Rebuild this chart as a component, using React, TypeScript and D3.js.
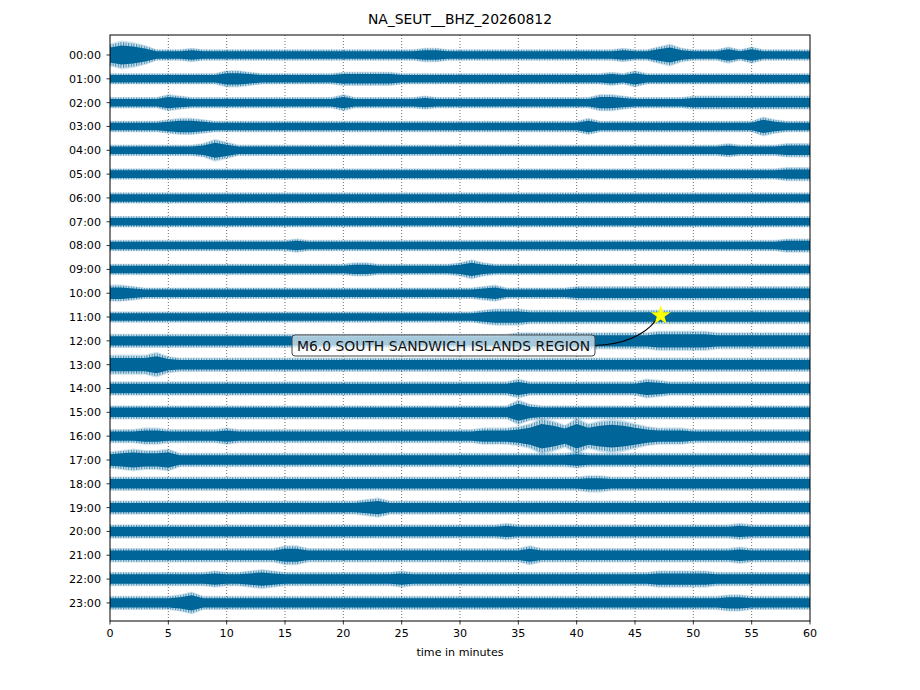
import * as d3 from 'd3'

// one string per hour row, one hex digit per minute (0..60), trace envelope half-width
const HOURS = [
  '00:00', '01:00', '02:00', '03:00', '04:00', '05:00', '06:00', '07:00',
  '08:00', '09:00', '10:00', '11:00', '12:00', '13:00', '14:00', '15:00',
  '16:00', '17:00', '18:00', '19:00', '20:00', '21:00', '22:00', '23:00',
]
const ENVELOPES = [
  '8a97444544 4444444444 4444444554 4444444444 4444544685 4446464444 4',
  '4444444444 6654444444 5555544444 4444444444 4445464444 4444444444 4',
  '4444465444 4444444444 6444444544 4444444444 4466544444 5555555555 5',
  '4444456654 4444444444 4444444444 4444444444 4644444444 4444447544 4',
  '4444444458 6444444444 4444444444 4444444444 4444444444 4445444455 5',
  '4444444444 4444444444 4444444444 4444444444 4444444444 4444444455 5',
  '4444444444 4444444444 4444444444 4444444444 4444444444 4444444444 4',
  '4444444444 4444444444 4444444444 4444444444 4444444444 4444444444 4',
  '4444444444 4444445444 4444444444 4444444444 4444444444 4444444455 5',
  '4444444444 4444444444 4554444444 5754444444 4444444444 4444444444 4',
  '6654444444 4444444444 4444444444 4456444444 5555555555 5555555555 5',
  '4444444444 4444444444 4444444444 4456665555 5555555555 5555555555 5',
  '5555555555 5555555555 5555555555 5555566666 6666666777 7766666666 6',
  '7777965555 5555555555 5555555555 5555555555 5555555555 5555555555 5',
  '5555555555 5555555555 5555555555 5555575555 5555557655 5555555555 5',
  '5555555555 5555555555 5555555555 5555596555 5555555555 5555555555 5',
  '5556655555 6555555555 5555555555 5566679db8 d9bcb97666 5555555555 5',
  '6787785555 5555555555 5555555555 5555555555 6555555555 5555555555 5',
  '5555555555 5555555555 5555555555 5555555555 5665555555 5555555555 5',
  '5555555555 5555555555 5567555555 5555555555 5555555555 5555555555 5',
  '5555555555 5555555555 5555555555 5555655555 5555555555 5555655555 5',
  '5555555555 5555577555 5555555555 5555557555 5555555555 5555655555 5',
  '5555555556 5567655555 5555565555 5555555555 5555555666 6655555555 5',
  '5555556855 5555555555 5555555555 5555555555 5555555555 5556655555 5',
]
const MINUTE_TICKS = [0, 5, 10, 15, 20, 25, 30, 35, 40, 45, 50, 55, 60]
const TITLE = 'NA_SEUT__BHZ_20260812'
const EVENT_LABEL = 'M6.0 SOUTH SANDWICH ISLANDS REGION'
const EVENT_ROW = 11
const EVENT_MINUTE = 47.2

const W = 920
const H = 690
const MARGIN = { top: 35, right: 110, bottom: 69, left: 110 }
const TRACE = '#006699'
const FONT = "'DejaVu Sans', sans-serif"

export default function App() {
  const w = W - MARGIN.left - MARGIN.right
  const h = H - MARGIN.top - MARGIN.bottom

  const x = d3.scaleLinear().domain([0, 60]).range([0, w])
  const y = d3.scaleLinear().domain([-0.84, 23.76]).range([0, h])
  const rowStep = y(1) - y(0)
  const amp = d3.scaleLinear().domain([0, 24]).range([0, rowStep])

  const rows = ENVELOPES.map((s) => s.replace(/ /g, '').split('').map((c) => parseInt(c, 16)))

  const band = (row: number, k: number) =>
    d3
      .area<number>()
      .x((_, i) => x(i))
      .y0((a) => y(row) + amp(a) * k)
      .y1((a) => y(row) - amp(a) * k)
      .curve(d3.curveLinear)

  const starX = x(EVENT_MINUTE)
  const starY = y(EVENT_ROW) - 1.5
  const star = d3.symbol().type(d3.symbolStar).size(125)()

  const boxX = 182
  const boxY = 300
  const boxW = 303
  const boxH = 21
  const arrowStart: [number, number] = [boxX + boxW, boxY + boxH / 2]
  const arrowEnd: [number, number] = [starX - 5, starY + 5]
  const arrowPath = `M${arrowStart[0]},${arrowStart[1]} Q${arrowEnd[0] - 18},${arrowStart[1] - 2} ${arrowEnd[0]},${arrowEnd[1]}`

  return (
    <svg width={W} height={H} style={{ position: 'absolute', left: 0, top: 0, background: '#fff' }} fontFamily={FONT}>
      <defs>
        <clipPath id="plot-clip">
          <rect width={w} height={h} />
        </clipPath>
        <pattern id="hair" width={2.6} height={6} patternUnits="userSpaceOnUse">
          <rect width={1.1} height={6} fill={TRACE} />
        </pattern>
      </defs>
      <text x={W / 2} y={24} textAnchor="middle" fontSize={13.9} fill="#000">
        {TITLE}
      </text>
      <g transform={`translate(${MARGIN.left},${MARGIN.top})`}>
        {MINUTE_TICKS.filter((t) => t > 0 && t < 60).map((t) => (
          <line key={t} x1={x(t)} x2={x(t)} y1={0} y2={h} stroke="#000" strokeWidth={0.8} strokeDasharray="1,2" opacity={0.7} />
        ))}
        <g clipPath="url(#plot-clip)">
          {rows.map((r, i) => (
            <g key={i}>
              <path d={band(i, 1.45)(r) ?? ''} fill={TRACE} opacity={0.18} />
              <path d={band(i, 1.3)(r) ?? ''} fill="url(#hair)" opacity={0.7} />
              <path d={band(i, 0.95)(r) ?? ''} fill={TRACE} />
            </g>
          ))}
        </g>
        <rect x={0} y={0} width={w} height={h} fill="none" stroke="#000" strokeWidth={1} />
        {HOURS.map((lbl, i) => (
          <g key={lbl} transform={`translate(0,${y(i)})`}>
            <line x1={-3.5} x2={0} stroke="#000" strokeWidth={0.8} />
            <text x={-9} dy="0.35em" textAnchor="end" fontSize={11.1} fill="#000">
              {lbl}
            </text>
          </g>
        ))}
        {MINUTE_TICKS.map((t) => (
          <g key={t} transform={`translate(${x(t)},${h})`}>
            <line y1={0} y2={3.5} stroke="#000" strokeWidth={0.8} />
            <text y={16} textAnchor="middle" fontSize={11.1} fill="#000">
              {t}
            </text>
          </g>
        ))}
        <text x={w / 2} y={h + 35} textAnchor="middle" fontSize={11.1} fill="#000">
          time in minutes
        </text>
        <path d={arrowPath} fill="none" stroke="#000" strokeWidth={1.1} />
        <path d={star ?? ''} transform={`translate(${starX},${starY})`} fill="#ffff00" />
        <rect x={boxX} y={boxY} width={boxW} height={boxH} rx={3} fill="#fff" fillOpacity={0.65} stroke="#444" strokeWidth={1} />
        <text x={boxX + boxW / 2} y={boxY + boxH / 2} dy="0.36em" textAnchor="middle" fontSize={13.9} fill="#111">
          {EVENT_LABEL}
        </text>
      </g>
    </svg>
  )
}
